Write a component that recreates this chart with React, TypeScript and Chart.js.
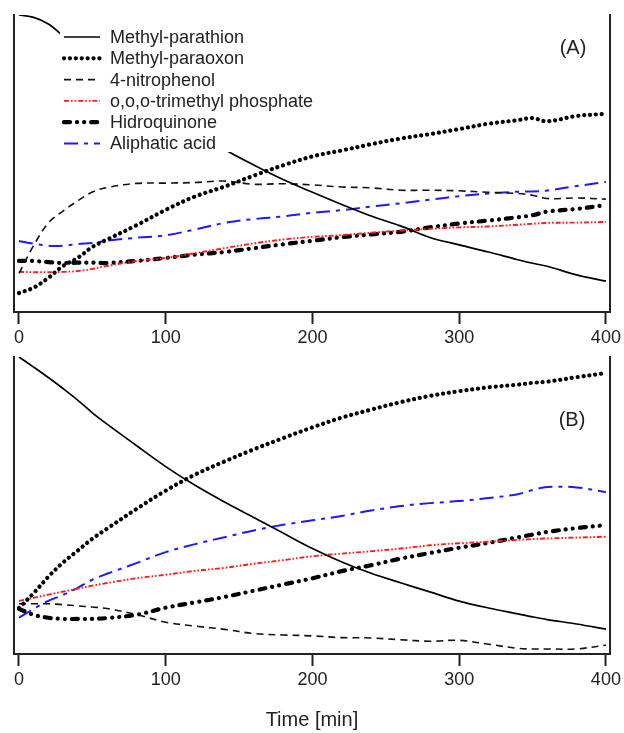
import React, { useEffect, useRef } from "react";
import { Chart, registerables } from "chart.js";

Chart.register(...registerables);

const FONT = '"Liberation Sans", Arial, Helvetica, sans-serif';

// Time points (min)
const TIMES = [0, 10, 20, 30, 40, 50, 60, 80, 100, 120, 140, 160, 180, 200, 220, 240, 260, 280, 300, 320, 340, 350, 360, 380, 400];
const X_TICKS = [0, 100, 200, 300, 400];

const SERIES_NAMES = [
  "Methyl-parathion",
  "Methyl-paraoxon",
  "4-nitrophenol",
  "o,o,o-trimethyl phosphate",
  "Hidroquinone",
  "Aliphatic acid",
];

// Panel (A) — relative values (0–100 of panel height)
const A_PARATHION = [100, 99.2, 97, 93, 89, 85.5, 82, 75, 68, 61.5, 54.8, 49.5, 44.6, 40.3, 36.2, 32.3, 29.0, 25.1, 22.6, 20.2, 17.6, 16.4, 15.4, 12.5, 10.4];
const A_PARAOXON = [6.4, 8.2, 11.5, 15.5, 18.2, 21.9, 24.4, 29.2, 34.4, 38.9, 42.2, 45.9, 49.4, 52.4, 54.4, 56.5, 58.4, 59.9, 61.6, 63.4, 64.6, 65.3, 64.2, 66.0, 66.7];
const A_NITROPHENOL = [13, 22.4, 30, 34, 37.4, 40.4, 41.9, 43.3, 43.4, 43.6, 44.1, 43.0, 43.2, 42.8, 42.1, 41.8, 41.0, 41.0, 40.8, 40.3, 39.9, 39.3, 38.2, 38.4, 38.0];
const A_TMP = [13.5, 13.4, 13.4, 13.5, 13.8, 14.5, 15.5, 17.2, 18.2, 19.8, 21.5, 23.1, 24.4, 25.3, 25.9, 26.7, 27.4, 28.0, 28.5, 28.8, 29.4, 29.7, 30.0, 30.1, 30.3];
const A_HQ = [17.2, 17.2, 16.8, 16.5, 16.6, 16.6, 16.5, 17.2, 18.2, 19.3, 20.2, 21.5, 22.8, 24.0, 25.2, 26.1, 27.0, 28.5, 29.8, 30.8, 31.9, 32.6, 33.8, 34.7, 36.0];
const A_ACID = [23.9, 23.0, 22.3, 22.3, 22.9, 23.2, 24.0, 25.0, 25.8, 27.8, 30.0, 31.3, 32.2, 33.4, 34.3, 35.5, 36.6, 37.8, 39.0, 39.9, 40.5, 40.6, 40.9, 42.4, 43.8];

// Panel (B)
const B_PARATHION = [100, 96.6, 93.1, 89.4, 85.5, 81.2, 77.4, 70.2, 63.1, 56.8, 51.2, 46.0, 40.7, 35.5, 31.0, 27.2, 24.0, 20.9, 17.8, 15.5, 13.5, 12.5, 11.6, 10.1, 8.4];
const B_PARAOXON = [15.5, 20.5, 26.0, 30.8, 34.8, 38.8, 42.2, 48.8, 55.0, 60.4, 64.8, 68.9, 72.7, 76.3, 79.6, 82.3, 84.8, 86.9, 88.5, 89.8, 90.7, 91.3, 91.7, 93.2, 94.6];
const B_NITROPHENOL = [16.9, 16.9, 16.9, 16.6, 16.2, 15.8, 15.3, 13.3, 10.7, 9.4, 8.3, 6.9, 6.4, 6.1, 5.5, 5.4, 4.8, 4.3, 4.6, 3.3, 1.9, 1.7, 1.7, 1.7, 3.0];
const B_TMP = [17.9, 18.9, 20.0, 21.0, 22.0, 23.0, 23.9, 25.5, 26.7, 28.0, 29.0, 30.4, 31.6, 32.9, 33.8, 34.6, 35.5, 36.6, 37.3, 37.8, 38.4, 38.7, 38.9, 39.2, 39.5];
const B_HQ = [15.2, 13.2, 12.2, 11.8, 11.8, 11.8, 12.1, 13.2, 15.6, 17.4, 19.2, 21.3, 23.4, 25.5, 27.9, 29.9, 32.1, 34.0, 35.8, 37.4, 39.3, 40.2, 41.1, 42.4, 43.4];
const B_ACID = [12.2, 15.2, 17.9, 19.9, 22.3, 25.0, 27.0, 30.6, 34.3, 37.0, 39.3, 41.6, 43.5, 45.0, 46.5, 48.3, 49.8, 50.8, 51.5, 52.5, 53.8, 55.2, 56.2, 56.1, 54.5];

type LineStyle = { color: string; width: number; dash: number[]; cap: CanvasLineCap };

const STYLES: LineStyle[] = [
  { color: "#000000", width: 1.7, dash: [], cap: "butt" },
  { color: "#000000", width: 4.2, dash: [0.1, 5.8], cap: "round" },
  { color: "#111111", width: 1.6, dash: [7, 5], cap: "butt" },
  { color: "#ff1a1a", width: 1.9, dash: [5, 2, 1.6, 2, 1.6, 2], cap: "butt" },
  { color: "#000000", width: 4.2, dash: [6, 7, 0.1, 7, 0.1, 7], cap: "round" },
  { color: "#1a1aff", width: 2, dash: [14, 6, 4, 6], cap: "butt" },
];

const INK = "#222222";

function buildDatasets(series: number[][]) {
  return series.map((arr, i) => {
    const s = STYLES[i];
    return {
      label: SERIES_NAMES[i],
      data: TIMES.map((t, k) => ({ x: t, y: arr[k] })),
      borderColor: s.color,
      backgroundColor: s.color,
      borderWidth: s.width,
      borderDash: s.dash,
      borderCapStyle: s.cap,
      borderJoinStyle: "round" as CanvasLineJoin,
      pointRadius: 0,
      pointHoverRadius: 0,
      fill: false,
      tension: 0.35,
    };
  });
}

const boxLegendPlugin = {
  id: "boxLegend",
  afterDatasetsDraw(chart: any) {
    const o = chart.options.plugins.boxLegend;
    if (!o || !o.show) return;
    const ctx: CanvasRenderingContext2D = chart.ctx;
    ctx.save();
    ctx.fillStyle = "#ffffff";
    ctx.fillRect(60, 26, 262, 126);
    SERIES_NAMES.forEach((name, i) => {
      const y = 37 + i * 21.3;
      const s = STYLES[i];
      ctx.beginPath();
      ctx.setLineDash(s.dash);
      ctx.lineWidth = s.width;
      ctx.strokeStyle = s.color;
      ctx.lineCap = s.cap;
      ctx.moveTo(64, y);
      ctx.lineTo(100, y);
      ctx.stroke();
      ctx.setLineDash([]);
      ctx.fillStyle = INK;
      ctx.font = `18px ${FONT}`;
      ctx.textAlign = "left";
      ctx.textBaseline = "middle";
      ctx.fillText(name, 110, y + 1);
    });
    ctx.restore();
  },
};

const panelLabelPlugin = {
  id: "panelLabel",
  afterDatasetsDraw(chart: any) {
    const o = chart.options.plugins.panelLabel;
    if (!o) return;
    const ctx: CanvasRenderingContext2D = chart.ctx;
    ctx.save();
    ctx.fillStyle = INK;
    ctx.font = `20px ${FONT}`;
    ctx.textAlign = "center";
    ctx.textBaseline = "middle";
    ctx.fillText(o.text, o.x, o.y);
    ctx.restore();
  },
};

function makeConfig(series: number[][], p: { padTop: number; axisHeight: number; title: boolean; label: any; legend: boolean }) {
  const yCommon = (position: "left" | "right") => ({
    type: "linear" as const,
    position,
    min: 0,
    max: 100,
    display: true,
    ticks: { display: false },
    grid: { drawOnChartArea: false, drawTicks: false },
    border: { display: true, color: INK, width: 2 },
    afterFit: (scale: any) => {
      scale.width = 0;
    },
  });
  return {
    type: "line" as const,
    data: { datasets: buildDatasets(series) },
    options: {
      animation: false as const,
      responsive: false,
      devicePixelRatio: 1,
      events: [] as any[],
      layout: { padding: { left: 14, right: 14, top: p.padTop, bottom: 0 } },
      plugins: {
        legend: { display: false },
        tooltip: { enabled: false },
        boxLegend: { show: p.legend },
        panelLabel: p.label,
      },
      scales: {
        x: {
          type: "linear" as const,
          position: "bottom" as const,
          min: -3.4,
          max: 402.7,
          afterBuildTicks: (scale: any) => {
            scale.ticks = X_TICKS.map((v) => ({ value: v }));
          },
          afterFit: (scale: any) => {
            scale.height = p.axisHeight;
          },
          ticks: {
            color: INK,
            font: { family: FONT, size: 18 },
            padding: 3,
            maxRotation: 0,
            autoSkip: false,
          },
          grid: {
            drawOnChartArea: false,
            drawTicks: true,
            tickLength: 12,
            tickWidth: 2,
            tickColor: INK,
          },
          border: { display: true, color: INK, width: 2 },
          title: {
            display: p.title,
            text: "Time [min]",
            color: INK,
            font: { family: FONT, size: 20 },
            padding: { top: 0, bottom: 1 },
          },
        },
        y: yCommon("left"),
        y2: yCommon("right"),
      },
    },
    plugins: [boxLegendPlugin, panelLabelPlugin],
  };
}

function Panel(props: { top: number; height: number; series: number[][]; padTop: number; axisHeight: number; title: boolean; label: any; legend: boolean }) {
  const ref = useRef<HTMLCanvasElement | null>(null);
  useEffect(() => {
    if (!ref.current) return;
    const chart = new Chart(ref.current, makeConfig(props.series, props) as any);
    return () => chart.destroy();
  }, []);
  return (
    <div style={{ position: "absolute", left: 0, top: props.top, width: 624, height: props.height }}>
      <canvas ref={ref} width={624} height={props.height} style={{ width: 624, height: props.height, display: "block" }} />
    </div>
  );
}

export default function App() {
  return (
    <div style={{ position: "absolute", left: 0, top: 0, width: 624, height: 733, background: "#fff" }}>
      <Panel
        top={0}
        height={350}
        series={[A_PARATHION, A_PARAOXON, A_NITROPHENOL, A_TMP, A_HQ, A_ACID]}
        padTop={15}
        axisHeight={38}
        title={false}
        legend={true}
        label={{ text: "(A)", x: 573, y: 48 }}
      />
      <Panel
        top={346}
        height={387}
        series={[B_PARATHION, B_PARAOXON, B_NITROPHENOL, B_TMP, B_HQ, B_ACID]}
        padTop={11}
        axisHeight={79}
        title={true}
        legend={false}
        label={{ text: "(B)", x: 572, y: 74 }}
      />
    </div>
  );
}
